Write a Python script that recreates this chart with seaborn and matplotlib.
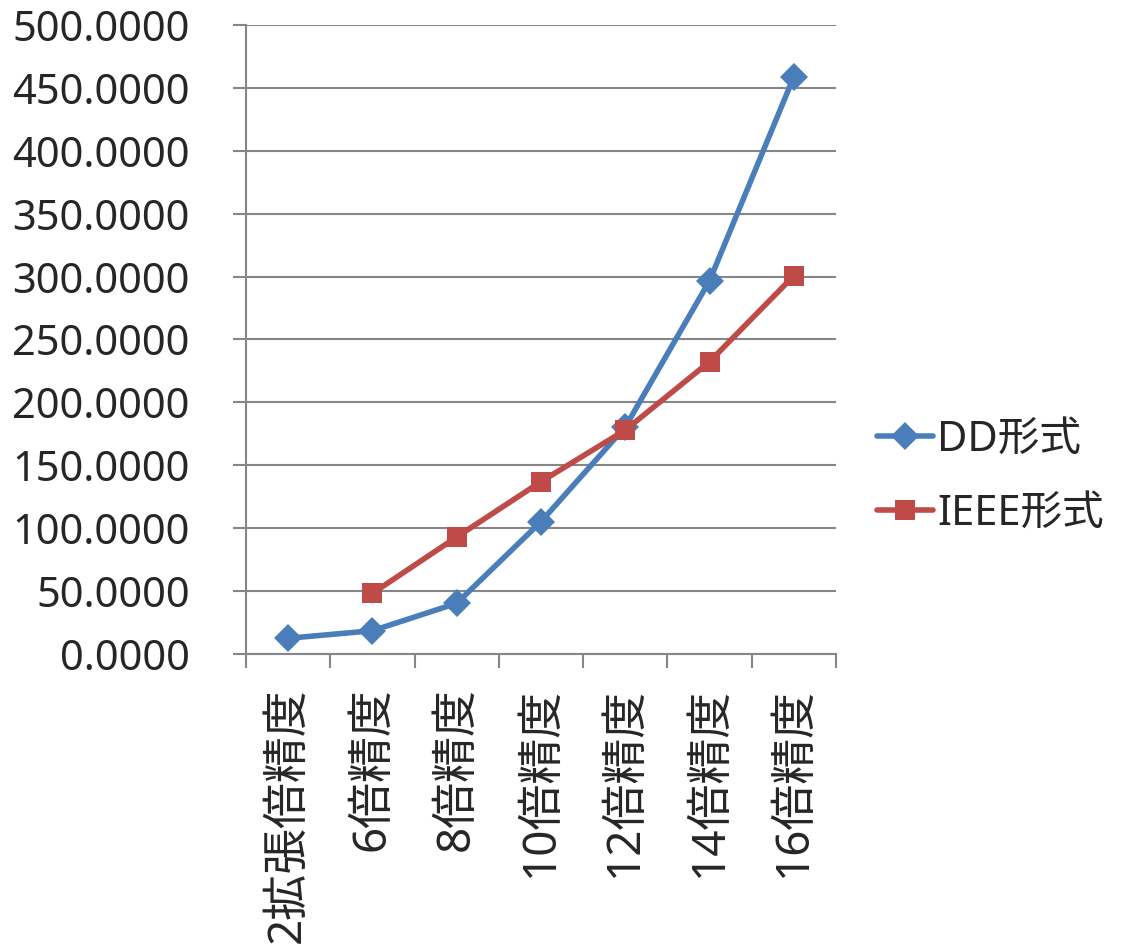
import numpy as np
import pandas as pd
import matplotlib
matplotlib.use("Agg")
import matplotlib.pyplot as plt
from matplotlib.ticker import FixedLocator, FormatStrFormatter
import seaborn as sns

categories = ["2拡張倍精度", "6倍精度", "8倍精度", "10倍精度", "12倍精度", "14倍精度", "16倍精度"]
dd_values = [12.5, 18.5, 40.3, 105.2, 180.5, 296.8, 459.0]
ieee_values = [np.nan, 48.2, 93.0, 137.0, 178.0, 232.4, 300.7]
series_names = ["DD形式", "IEEE形式"]
y_ticks = [0, 50, 100, 150, 200, 250, 300, 350, 400, 450, 500]

sns.set_theme(style="white")
plt.rcParams["font.family"] = ["Noto Sans", "Noto Sans CJK JP", "DejaVu Sans"]

pos = list(range(len(categories)))
df = pd.DataFrame({
    "pos": pos + pos,
    "value": dd_values + ieee_values,
    "series": [series_names[0]] * len(pos) + [series_names[1]] * len(pos),
})

fig = plt.figure(figsize=(11.21, 9.47), dpi=100)
ax = fig.add_axes([0.2194, 0.3094, 0.7458 - 0.2194, 0.9736 - 0.3094])

palette = {series_names[0]: "#4a7ebb", series_names[1]: "#be4b48"}
markers = {series_names[0]: "D", series_names[1]: "s"}
sns.lineplot(data=df, x="pos", y="value", hue="series", style="series",
             palette=palette, markers=markers, dashes=False, ax=ax,
             linewidth=4, markersize=15, markeredgewidth=0)
# the diamond reads slightly larger than the square at equal size
for line in ax.get_lines():
    if line.get_marker() == "D":
        line.set_markersize(13.8)

ax.set_xlim(-0.5, len(categories) - 0.5)
ax.set_ylim(0, 500)
ax.set_xlabel("")
ax.set_ylabel("")

ax.yaxis.set_major_locator(FixedLocator(y_ticks))
ax.yaxis.set_major_formatter(FormatStrFormatter("%.4f"))
ax.yaxis.grid(True, color="#868686", linewidth=1.5)
ax.set_axisbelow(True)
ax.tick_params(axis="y", which="major", left=True, length=9.5, width=1.5,
               color="#868686", labelsize=30, pad=31)

ax.set_xticks(pos)
ax.set_xticklabels(categories, rotation=90, va="top", ha="center")
ax.set_xticks(np.arange(-0.5, len(categories), 1.0), minor=True)
ax.tick_params(axis="x", which="major", length=0, labelsize=33, pad=24)
ax.tick_params(axis="x", which="minor", bottom=True, length=10, width=1.5,
               color="#868686")

for side in ["top", "right"]:
    ax.spines[side].set_visible(False)
for side in ["left", "bottom"]:
    ax.spines[side].set_color("#868686")
    ax.spines[side].set_linewidth(1.5)

leg = ax.legend(loc="center left", bbox_to_anchor=(1.041, 0.282), frameon=False,
                fontsize=30, handlelength=1.35, handletextpad=0.1,
                labelspacing=0.76, borderaxespad=0)
for h in leg.legend_handles:
    h.set_linewidth(4)
    if h.get_marker() == "D":
        h.set_markersize(13.8)

fig.savefig("out.png", dpi=100)
